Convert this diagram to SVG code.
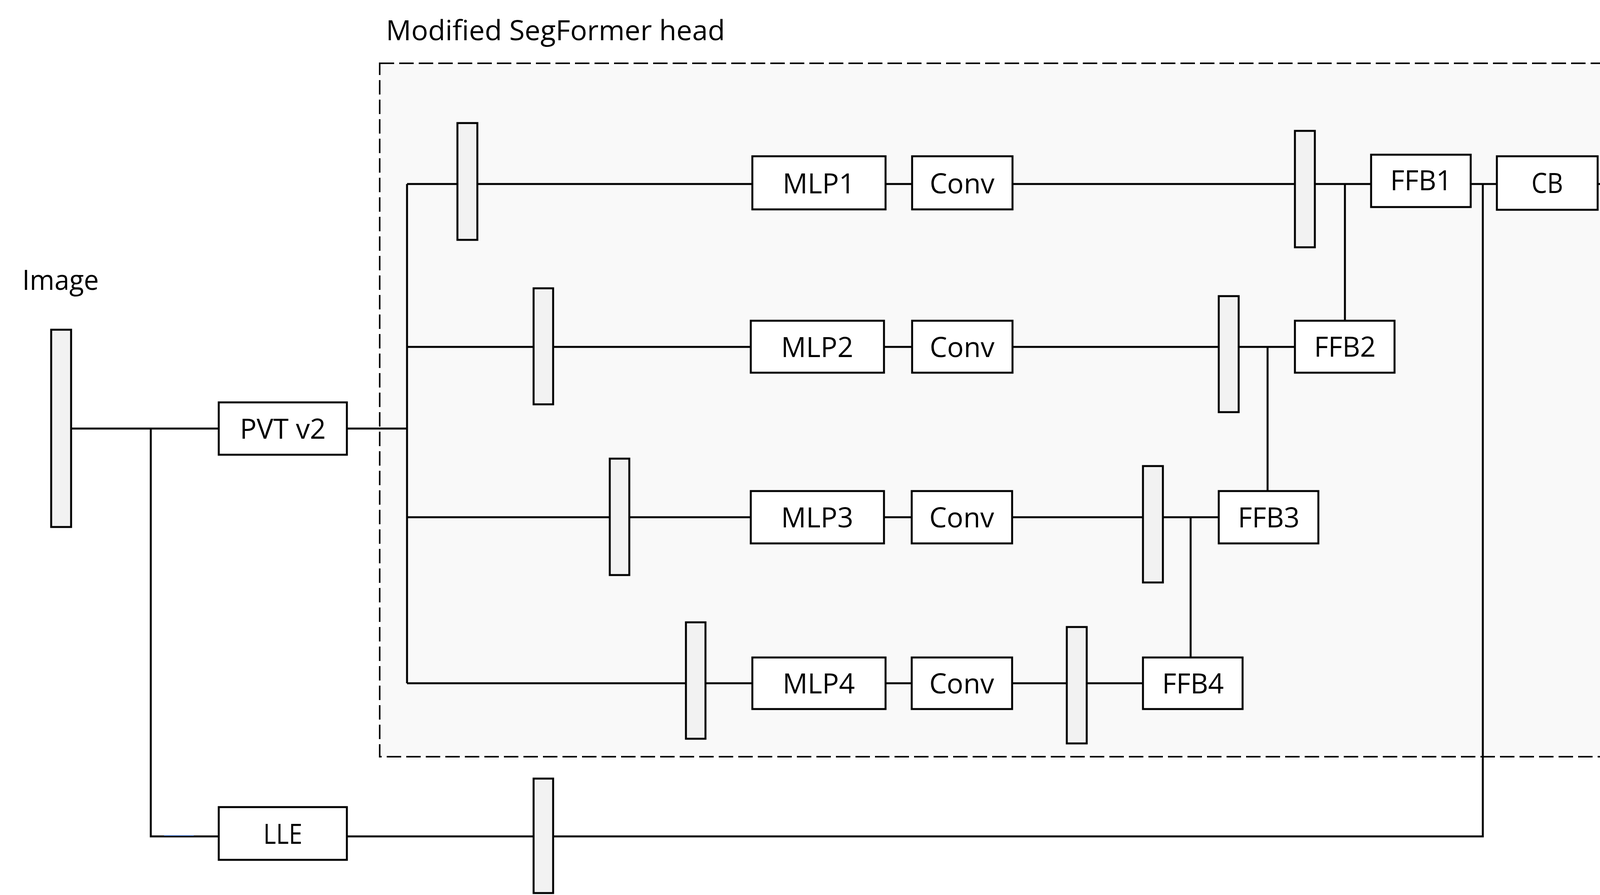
<svg xmlns="http://www.w3.org/2000/svg" width="5953" height="2291" viewBox="0 0 5953 2291">
<style>
.bg{fill:#ffffff}
.region{fill:#f9f9f9;stroke:#000;stroke-width:4;stroke-dasharray:37 13}
.box{fill:#ffffff;stroke:#000;stroke-width:5}
.bar{fill:#f2f2f2;stroke:#000;stroke-width:5}
.wire{fill:none;stroke:#000;stroke-width:5}
.blue{fill:none;stroke:#4472C4;stroke-width:2}
text{font-family:"Open Sans","DejaVu Sans",sans-serif;font-size:72px;fill:#000}
.c{text-anchor:middle}
</style>
<rect class="bg" x="0" y="0" width="5953" height="2291"/>
<g id="segformer-head">
<rect class="region" x="972" y="162" width="4165" height="1775"/>
<text x="988" y="103" textLength="868" lengthAdjust="spacingAndGlyphs">Modified SegFormer head</text>
</g>
<g id="connectors">
<path class="wire" d="M182 1097H560"/>
<path class="wire" d="M386 1097V2141H560"/>
<path class="wire" d="M888 1097H1042"/>
<path class="wire" d="M1042 471V1749"/>
<path class="wire" d="M1042 471H1926"/>
<path class="wire" d="M2267 471H2335"/>
<path class="wire" d="M2592 471H3510"/>
<path class="wire" d="M3443 471V821"/>
<path class="wire" d="M1042 888H1922"/>
<path class="wire" d="M2263 888H2335"/>
<path class="wire" d="M2592 888H3315"/>
<path class="wire" d="M3245 888V1257"/>
<path class="wire" d="M1042 1324H1922"/>
<path class="wire" d="M2263 1324H2334"/>
<path class="wire" d="M2591 1324H3120"/>
<path class="wire" d="M3048 1324V1683"/>
<path class="wire" d="M1042 1749H1926"/>
<path class="wire" d="M2267 1749H2334"/>
<path class="wire" d="M2591 1749H2926"/>
<path class="wire" d="M3765 471H3832"/>
<path class="wire" d="M3796 471V2141H888"/>
<path class="wire" d="M4090 471H4157"/>
<path class="wire" d="M4413 471H4481"/>
<path class="wire" d="M4737 471H4805"/>
<path class="wire" d="M5061 471H5271V1102H5581"/>
<path class="blue" d="M420 2139H496"/>
</g>
<g id="image">
<text x="57" y="742" textLength="196" lengthAdjust="spacingAndGlyphs">Image</text>
<rect class="bar" x="131" y="844" width="51" height="505"/>
</g>
<g id="pvt">
<rect class="box" x="560" y="1030" width="328" height="134"/>
<text class="c" x="724" y="1123" textLength="220" lengthAdjust="spacingAndGlyphs">PVT v2</text>
</g>
<g id="lle">
<rect class="box" x="560" y="2066" width="328" height="135"/>
<text class="c" x="724" y="2160" textLength="100" lengthAdjust="spacingAndGlyphs">LLE</text>
</g>
<g id="lle-bar"><rect class="bar" x="1366" y="1993" width="50" height="293"/></g>
<g id="bar1a"><rect class="bar" x="1171" y="315" width="51" height="299"/></g>
<g id="bar2a"><rect class="bar" x="1366" y="738" width="50" height="297"/></g>
<g id="bar3a"><rect class="bar" x="1561" y="1174" width="50" height="298"/></g>
<g id="bar4a"><rect class="bar" x="1756" y="1593" width="50" height="298"/></g>
<g id="mlp1">
<rect class="box" x="1926" y="400" width="341" height="136"/>
<text class="c" x="2096" y="495" textLength="185" lengthAdjust="spacingAndGlyphs">MLP1</text>
</g>
<g id="conv1">
<rect class="box" x="2335" y="400" width="257" height="136"/>
<text class="c" x="2463" y="495" textLength="166" lengthAdjust="spacingAndGlyphs">Conv</text>
</g>
<g id="mlp2">
<rect class="box" x="1922" y="821" width="341" height="133"/>
<text class="c" x="2092" y="914" textLength="185" lengthAdjust="spacingAndGlyphs">MLP2</text>
</g>
<g id="conv2">
<rect class="box" x="2335" y="821" width="257" height="133"/>
<text class="c" x="2463" y="914" textLength="166" lengthAdjust="spacingAndGlyphs">Conv</text>
</g>
<g id="mlp3">
<rect class="box" x="1922" y="1257" width="341" height="134"/>
<text class="c" x="2092" y="1350" textLength="185" lengthAdjust="spacingAndGlyphs">MLP3</text>
</g>
<g id="conv3">
<rect class="box" x="2334" y="1257" width="257" height="134"/>
<text class="c" x="2462" y="1350" textLength="166" lengthAdjust="spacingAndGlyphs">Conv</text>
</g>
<g id="mlp4">
<rect class="box" x="1926" y="1683" width="341" height="132"/>
<text class="c" x="2096" y="1775" textLength="185" lengthAdjust="spacingAndGlyphs">MLP4</text>
</g>
<g id="conv4">
<rect class="box" x="2334" y="1683" width="257" height="132"/>
<text class="c" x="2462" y="1775" textLength="166" lengthAdjust="spacingAndGlyphs">Conv</text>
</g>
<g id="bar1b"><rect class="bar" x="3315" y="335" width="51" height="298"/></g>
<g id="bar2b"><rect class="bar" x="3120" y="758" width="51" height="297"/></g>
<g id="bar3b"><rect class="bar" x="2926" y="1193" width="51" height="298"/></g>
<g id="bar4b"><rect class="bar" x="2731" y="1605" width="51" height="298"/></g>
<g id="ffb1">
<rect class="box" x="3510" y="396" width="255" height="134"/>
<text class="c" x="3638" y="487" textLength="158" lengthAdjust="spacingAndGlyphs">FFB1</text>
</g>
<g id="ffb2">
<rect class="box" x="3315" y="821" width="255" height="133"/>
<text class="c" x="3443" y="913" textLength="158" lengthAdjust="spacingAndGlyphs">FFB2</text>
</g>
<g id="ffb3">
<rect class="box" x="3120" y="1257" width="255" height="134"/>
<text class="c" x="3248" y="1350" textLength="158" lengthAdjust="spacingAndGlyphs">FFB3</text>
</g>
<g id="ffb4">
<rect class="box" x="2926" y="1683" width="255" height="132"/>
<text class="c" x="3054" y="1775" textLength="158" lengthAdjust="spacingAndGlyphs">FFB4</text>
</g>
<g id="cb1">
<rect class="box" x="3832" y="400" width="258" height="137"/>
<text class="c" x="3961" y="494" textLength="81" lengthAdjust="spacingAndGlyphs">CB</text>
</g>
<g id="up2">
<rect class="box" x="4157" y="400" width="256" height="137"/>
<text class="c" x="4287" y="494" textLength="102" lengthAdjust="spacingAndGlyphs">↑2</text>
</g>
<g id="cb2">
<rect class="box" x="4481" y="400" width="256" height="137"/>
<text class="c" x="4609" y="494" textLength="81" lengthAdjust="spacingAndGlyphs">CB</text>
</g>
<g id="conv5">
<rect class="box" x="4805" y="405" width="256" height="133"/>
<text class="c" x="4935" y="497" textLength="166" lengthAdjust="spacingAndGlyphs">Conv</text>
</g>
<g id="output">
<text class="c" x="5594" y="681" textLength="291" lengthAdjust="spacingAndGlyphs">Depth or</text>
<text class="c" x="5592" y="781" textLength="420" lengthAdjust="spacingAndGlyphs">defocus map</text>
<rect class="bar" x="5581" y="844" width="51" height="505"/>
</g>
</svg>
